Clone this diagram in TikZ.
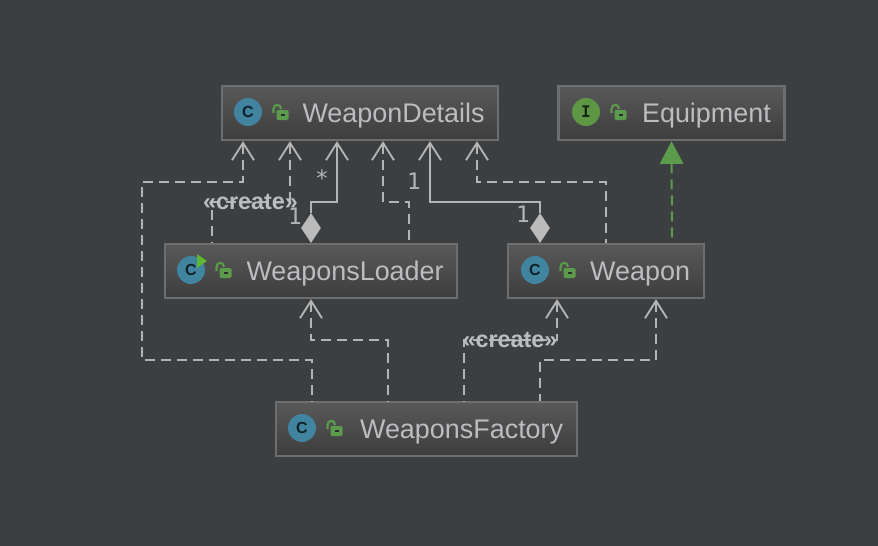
\documentclass[tikz,border=0pt]{standalone}
\usepackage{fontspec}
\setmainfont{Liberation Sans}
\newfontfamily\monofnt{DejaVu Sans Mono}
\usetikzlibrary{calc,positioning,arrows.meta,shapes.geometric}
\definecolor{canvasbg}{HTML}{3C3F41}
\definecolor{boxtop}{HTML}{595959}
\definecolor{boxbottom}{HTML}{3D3D3D}
\definecolor{boxedge}{HTML}{6E6E6E}
\definecolor{linegray}{HTML}{B4B4B4}
\definecolor{textgray}{HTML}{BBBDC0}
\definecolor{lockgreen}{HTML}{5C9A4C}
\definecolor{classblue}{HTML}{40849F}
\definecolor{ifacegreen}{HTML}{5F9645}
\definecolor{playgreen}{HTML}{5FB832}
\tikzset{lockicon/.pic={
    \draw[lockgreen,line width=1.6pt] (-6.5,1) -- (-6.5,-3) .. controls (-6.5,-8.5) and (1,-8.5) .. (1,-3);
    \fill[lockgreen,rounded corners=1pt] (-3.5,-2) rectangle (8.5,8);
    \fill[canvasbg!70!black] (0.5,1.5) rectangle (4.5,4);
}}
\begin{document}
\begin{tikzpicture}
    \tikzset{x=0.75pt,y=-0.75pt,
      classbox/.style={draw=boxedge,line width=1.7pt,top color=boxtop,bottom color=boxbottom,text=textgray,
        font=\fontsize{20.2}{24}\selectfont,minimum height=42pt-1.5pt,inner xsep=10.25pt,inner ysep=0pt,
        align=right,text height=16pt,text depth=2.5pt},
      iconc/.style={circle,fill=classblue,minimum size=21pt,inner sep=0pt,text=black!75!classblue,
        font=\bfseries\fontsize{12}{12}\selectfont},
      iconi/.style={iconc,fill=ifacegreen,text=black!75!ifacegreen,font=\monofnt\bfseries\fontsize{12}{12}\selectfont},
      depend/.style={draw=linegray,line width=1.4pt,dash pattern=on 7.5pt off 4.5pt,{Straight Barb[length=13pt,width=16.5pt]}-},
      assoc/.style={draw=linegray,line width=1.4pt,{Straight Barb[length=13pt,width=16.5pt]}-},
      realize/.style={draw=lockgreen,line width=1.5pt,dash pattern=on 7.5pt off 4.5pt,{Triangle[length=17pt,width=17.5pt]}-},
      assocdiamond/.style={diamond,fill=linegray!90!white,aspect=0.67,minimum width=15pt,minimum height=22.5pt,inner sep=0pt},
      stereo/.style={text=textgray,font=\bfseries\fontsize{17.5}{20}\selectfont,inner sep=0pt},
      multi/.style={text=linegray,font=\monofnt\fontsize{17}{20}\selectfont,inner sep=0pt}}
    \fill[canvasbg] (0,0) rectangle (878,546);
    % boxes
    \node [classbox,text width=187pt] (wd) at (360,113)   {WeaponDetails};
    \node [classbox,text width=149pt] (eq) at (671.5,113) {Equipment};
    \node [classbox,text width=199pt] (wl) at (311,271)   {WeaponsLoader};
    \node [classbox,text width=126pt] (wp) at (606,271)   {Weapon};
    \node [classbox,text width=205pt] (wf) at (426.5,429) {WeaponsFactory};
    % icons
    \node [iconc] (wdC) at (248,112) {C};
    \node [iconi] (eqI) at (586,112) {I};
    \node [iconc] (wlC) at (191,270) {C};
    \node [iconc] (wpC) at (535,270) {C};
    \node [iconc] (wfC) at (302,428) {C};
    \pic at (280,112) {lockicon};
    \pic at (618,112) {lockicon};
    \pic at (223,270) {lockicon};
    \pic at (567,270) {lockicon};
    \pic at (334,428) {lockicon};
    \fill[playgreen] (197,254) -- (207,261) -- (197,268) -- cycle;
    % diamonds
    \node [assocdiamond] (wlD) at (311,228) {};
    \node [assocdiamond] (wpD) at (540,228) {};
    % connectors
    \draw[depend] ($(wd.south)+(-117,0)$) -- (243,182) -- (142,182) -- (142,360) -- (312,360) -- ($(wf.north)+(-114.5,0)$);
    \draw[depend] ($(wd.south)+(-70,0)$) -- (290,202) -- (212,202) -- ($(wl.north)+(-99,0)$);
    \draw[assoc] ($(wd.south)+(-23,0)$) -- (337,202) -- (311,202) -- (wlD.north);
    \draw[depend] ($(wd.south)+(23,0)$) -- (383,202) -- (409,202) -- ($(wl.north)+(98,0)$);
    \draw[assoc] ($(wd.south)+(70,0)$) -- (430,202) -- (540,202) -- (wpD.north);
    \draw[depend] ($(wd.south)+(117,0)$) -- (477,182) -- (606,182) -- (wp.north);
    \draw[realize] (eq.south) -- ($(wp.north)+(66,0)$);
    \draw[depend] (wl.south) -- (311,340) -- (388,340) -- ($(wf.north)+(-38.5,0)$);
    \draw[depend] ($(wp.south)+(-49,0)$) -- (557,340) -- (464,340) -- ($(wf.north)+(37.5,0)$);
    \draw[depend] ($(wp.south)+(50,0)$) -- (656,360) -- (540,360) -- ($(wf.north)+(113.5,0)$);
    % labels
    \node [stereo] (lbA) at (250.5,202) {«create»};
    \node [stereo] (lbB) at (510,340) {«create»};
    \node [multi] (lbC) at (322,178) {*};
    \node [multi] (lbD) at (295,216) {1};
    \node [multi] (lbE) at (414,181) {1};
    \node [multi] (lbF) at (523,214) {1};
\end{tikzpicture}
\end{document}
